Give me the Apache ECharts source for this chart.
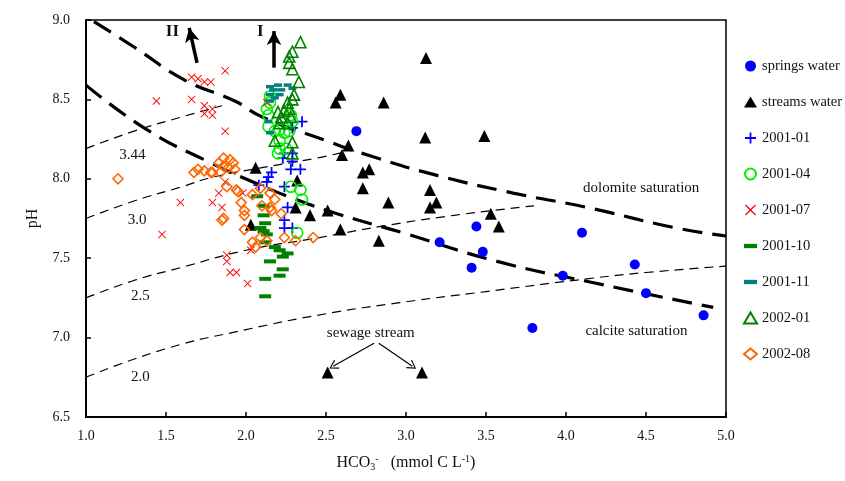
<!DOCTYPE html>
<html>
<head>
<meta charset="utf-8">
<script src="https://cdn.jsdelivr.net/npm/echarts@6/dist/echarts.min.js"></script>
<style>
  html, body { margin: 0; background: #fff; }
  #chart { width: 845px; height: 481px; }
</style>
</head>
<body>
<div id="chart"></div>
<script>
// HCO3- (mmol C/L), pH
const springsWater = [
  [2.69, 8.30], [3.21, 7.60], [3.44, 7.70], [3.48, 7.54], [3.41, 7.44], [4.10, 7.66],
  [3.98, 7.39], [4.43, 7.46], [4.50, 7.28], [4.86, 7.14], [3.79, 7.06],
];
const streamsWater = [
  [3.125, 8.76], [3.12, 8.26], [3.49, 8.27], [3.15, 7.93], [3.15, 7.82], [3.19, 7.85],
  [3.53, 7.78], [3.58, 7.70], [2.59, 8.53], [2.56, 8.48], [2.86, 8.48], [2.64, 8.21],
  [2.60, 8.15], [2.73, 8.04], [2.77, 8.06], [2.73, 7.94], [2.89, 7.85], [2.51, 7.80],
  [2.40, 7.77], [2.59, 7.68], [2.83, 7.61], [2.06, 8.07], [2.32, 7.99], [2.31, 7.82],
  [2.03, 7.71], [2.51, 6.78], [3.10, 6.78],
];
const s200101 = [
  [2.35, 8.36], [2.29, 8.32], [2.24, 8.16], [2.29, 8.16], [2.29, 8.11], [2.23, 8.13],
  [2.34, 8.06], [2.28, 8.06], [2.16, 8.04], [2.14, 8.01], [2.13, 7.98], [2.24, 7.95],
  [2.08, 7.96], [2.26, 7.82], [2.24, 7.74], [2.24, 7.69], [2.29, 7.69],
];
const s200104 = [
  [2.15, 8.52], [2.15, 8.48], [2.13, 8.44], [2.14, 8.40], [2.14, 8.33], [2.18, 8.30],
  [2.21, 8.31], [2.24, 8.29], [2.27, 8.30], [2.28, 8.40], [2.29, 8.36], [2.21, 8.24],
  [2.21, 8.19], [2.25, 8.19], [2.20, 8.16], [2.28, 7.95], [2.34, 7.93], [2.35, 7.87],
  [2.32, 7.66],
];
const s200107 = [
  [1.66, 8.64], [1.70, 8.63], [1.74, 8.61], [1.78, 8.61], [1.87, 8.68], [1.44, 8.49],
  [1.66, 8.50], [1.74, 8.46], [1.79, 8.44], [1.74, 8.41], [1.79, 8.40], [1.87, 8.30],
  [2.13, 8.48], [1.59, 7.85], [1.79, 7.85], [1.475, 7.65], [1.83, 7.91], [1.85, 7.82],
  [1.87, 7.98], [1.98, 7.91], [1.88, 7.52], [1.88, 7.48], [1.90, 7.41], [1.94, 7.41],
  [2.01, 7.34], [2.03, 7.55],
];
const s200110 = [
  [2.07, 7.89], [2.11, 7.83], [2.11, 7.77], [2.12, 7.72], [2.09, 7.69], [2.11, 7.67],
  [2.13, 7.65], [2.12, 7.60], [2.18, 7.57], [2.21, 7.55], [2.26, 7.53], [2.23, 7.51],
  [2.15, 7.48], [2.23, 7.43], [2.21, 7.39], [2.12, 7.37], [2.12, 7.26],
];
const s200111 = [
  [2.15, 8.58], [2.20, 8.59], [2.26, 8.59], [2.17, 8.56], [2.22, 8.56], [2.29, 8.57],
  [2.15, 8.53], [2.21, 8.53], [2.18, 8.51], [2.15, 8.49], [2.14, 8.36], [2.15, 8.29],
];
const s200201 = [
  [2.34, 8.86], [2.29, 8.80], [2.27, 8.77], [2.27, 8.73], [2.29, 8.69], [2.33, 8.61],
  [2.30, 8.53], [2.29, 8.50], [2.26, 8.48], [2.27, 8.44], [2.24, 8.43], [2.20, 8.42],
  [2.22, 8.39], [2.28, 8.39], [2.21, 8.35], [2.26, 8.35], [2.18, 8.24], [2.29, 8.23],
  [2.29, 8.16],
];
const s200208 = [
  [1.20, 8.00], [1.675, 8.04], [1.70, 8.06], [1.74, 8.05], [1.78, 8.04], [1.79, 8.04],
  [1.83, 8.10], [1.86, 8.13], [1.90, 8.12], [1.89, 8.07], [1.93, 8.06], [1.84, 8.04],
  [1.86, 8.08], [1.92, 8.10], [1.95, 7.92], [1.88, 7.95], [1.94, 7.93], [1.97, 7.85],
  [1.99, 7.80], [1.99, 7.77], [1.86, 7.75], [1.85, 7.74], [1.99, 7.68], [2.04, 7.90],
  [2.09, 7.94], [2.15, 7.91], [2.18, 7.87], [2.10, 7.83], [2.15, 7.82], [2.16, 7.80],
  [2.22, 7.78], [2.04, 7.60], [2.06, 7.57], [2.09, 7.63], [2.13, 7.61], [2.24, 7.63],
  [2.31, 7.61], [2.42, 7.63],
];

// saturation curves and pCO2 lines
const dolomiteLine = [
  [1.05, 8.99], [1.3, 8.83], [1.62, 8.62], [1.93, 8.49], [2.1, 8.39], [2.5, 8.24],
  [2.79, 8.14], [3.2, 8.02], [3.67, 7.91], [4.13, 7.82], [4.69, 7.69], [5.0, 7.64],
];
const calciteLine = [
  [1.0, 8.59], [1.38, 8.31], [1.76, 8.11], [2.09, 7.96], [2.26, 7.89], [2.57, 7.78],
  [2.98, 7.66], [3.57, 7.48], [4.15, 7.35], [4.92, 7.19],
];
const pco2Line344 = [[1.0, 8.19], [1.3, 8.30], [1.6, 8.39], [1.85, 8.46]];
const pco2Line30 = [[1.0, 7.75], [1.3, 7.86], [1.6, 7.95], [1.79, 8.01], [2.1, 8.07], [2.44, 8.13], [2.62, 8.17]];
const pco2Line25 = [[1.0, 7.25], [1.3, 7.36], [1.59, 7.44], [2.0, 7.55], [2.46, 7.63], [2.84, 7.70], [3.3, 7.77], [3.8, 7.83]];
const pco2Line20 = [[1.0, 6.75], [1.5, 6.93], [2.0, 7.05], [2.5, 7.15], [2.96, 7.22], [3.5, 7.29], [4.13, 7.37], [4.5, 7.41], [5.0, 7.45]];

const notes = [
  { text: '3.44', at: [1.29, 8.15] },
  { text: '3.0', at: [1.32, 7.74] },
  { text: '2.5', at: [1.34, 7.26] },
  { text: '2.0', at: [1.34, 6.75] },
  { text: 'dolomite saturation', at: [4.47, 7.94] },
  { text: 'calcite saturation', at: [4.44, 7.04] },
  { text: 'sewage stream', at: [2.78, 7.03] },
];
const romanNotes = [
  { text: 'II', at: [1.54, 8.93] },
  { text: 'I', at: [2.09, 8.93] },
];
const thickArrows = [
  [[1.694, 8.73], [1.645, 8.95]],
  [[2.175, 8.70], [2.175, 8.93]],
];
const thinArrows = [
  [[2.80, 6.965], [2.545, 6.82]],
  [[2.83, 6.965], [3.04, 6.82]],
];

const FONT = '"Liberation Serif", "Times New Roman", serif';
const PLUS = 'path://M4.2,0H5.8V4.2H10V5.8H5.8V10H4.2V5.8H0V4.2H4.2Z';
const CROSS = 'path://M0.8,0L5,4.2L9.2,0L10,0.8L5.8,5L10,9.2L9.2,10L5,5.8L0.8,10L0,9.2L4.2,5L0,0.8Z';
const DASH = 'path://M0,0H12V4H0Z';
const CHEVRON = 'path://M0,10L5,0L10,10L9,10.8L5,2.4L1,10.8Z';

function hollow(color) {
  return { color: 'rgba(0,0,0,0)', borderColor: color, borderWidth: 1.6, opacity: 1 };
}

function curve(data, width, dash) {
  return {
    type: 'line',
    data: data,
    smooth: true,
    showSymbol: false,
    silent: true,
    z: 1,
    lineStyle: { color: '#000', width: width, type: dash },
  };
}

const chart = echarts.init(document.getElementById('chart'));
chart.setOption({
  animation: false,
  grid: {
    left: 86, right: 119, top: 20, bottom: 64,
    show: true, borderColor: '#000', borderWidth: 1.5,
  },
  legend: {
    orient: 'vertical',
    left: 738,
    top: 53,
    itemWidth: 13,
    itemHeight: 11,
    itemGap: 20,
    textStyle: { fontFamily: FONT, fontSize: 14.5, color: '#111', lineHeight: 16 },
    data: ['springs water', 'streams water', '2001-01', '2001-04', '2001-07',
      '2001-10', '2001-11', '2002-01', '2002-08'],
  },
  xAxis: {
    type: 'value',
    min: 1.0, max: 5.0, interval: 0.5,
    name: 'HCO{sub|3}{sup|-}   (mmol C L{sup|-1})',
    nameLocation: 'middle',
    nameGap: 37,
    nameTextStyle: {
      fontFamily: FONT, fontSize: 16, color: '#111',
      rich: {
        sub: { fontFamily: FONT, fontSize: 10, verticalAlign: 'bottom', padding: [8, 0, 0, 0] },
        sup: { fontFamily: FONT, fontSize: 10, verticalAlign: 'top', padding: [0, 0, 7, 0] },
      },
    },
    axisLine: { onZero: false, lineStyle: { color: '#000', width: 2 } },
    axisTick: { inside: true, length: 5, lineStyle: { color: '#000', width: 1.5 } },
    axisLabel: { margin: 12, fontFamily: FONT, fontSize: 14, color: '#111', formatter: v => v.toFixed(1) },
    splitLine: { show: false },
  },
  yAxis: {
    type: 'value',
    min: 6.5, max: 9.0, interval: 0.5,
    name: 'pH',
    nameLocation: 'middle',
    nameGap: 45,
    nameTextStyle: { fontFamily: FONT, fontSize: 16, color: '#111' },
    axisLine: { onZero: false, lineStyle: { color: '#000', width: 2 } },
    axisTick: { inside: true, length: 5, lineStyle: { color: '#000', width: 1.5 } },
    axisLabel: { margin: 16, fontFamily: FONT, fontSize: 14, color: '#111', formatter: v => v.toFixed(1) },
    splitLine: { show: false },
  },
  series: [
    curve(dolomiteLine, 3.2, [20, 10]),
    curve(calciteLine, 3.2, [20, 10]),
    curve(pco2Line344, 1.2, [9, 6]),
    curve(pco2Line30, 1.2, [9, 6]),
    curve(pco2Line25, 1.2, [9, 6]),
    curve(pco2Line20, 1.2, [9, 6]),
    {
      type: 'line',
      data: [],
      silent: true,
      markLine: {
        silent: true,
        animation: false,
        label: { show: false },
        symbol: ['none', 'arrow'],
        symbolSize: [11, 14],
        lineStyle: { color: '#000', width: 3.5, type: 'solid' },
        data: thickArrows.map(a => [{ coord: a[0] }, { coord: a[1] }]),
      },
    },
    {
      type: 'line',
      data: [],
      silent: true,
      markLine: {
        silent: true,
        animation: false,
        label: { show: false },
        symbol: ['none', CHEVRON],
        symbolSize: [10, 9],
        lineStyle: { color: '#000', width: 1.2, type: 'solid' },
        data: thinArrows.map(a => [{ coord: a[0] }, { coord: a[1] }]),
      },
    },
    {
      name: 'springs water', type: 'scatter', data: springsWater,
      symbol: 'circle', symbolSize: 10, itemStyle: { color: '#0000ff', opacity: 1 },
    },
    {
      name: 'streams water', type: 'scatter', data: streamsWater,
      symbol: 'triangle', symbolSize: 12, itemStyle: { color: '#000', opacity: 1 },
    },
    {
      name: '2001-01', type: 'scatter', data: s200101,
      symbol: PLUS, symbolSize: 11, itemStyle: { color: '#0000ff', opacity: 1 },
    },
    {
      name: '2001-04', type: 'scatter', data: s200104,
      symbol: 'circle', symbolSize: 11, itemStyle: hollow('#00ee00'),
    },
    {
      name: '2001-07', type: 'scatter', data: s200107,
      symbol: CROSS, symbolSize: 8, itemStyle: { color: '#ff0000', opacity: 1 },
    },
    {
      name: '2001-10', type: 'scatter', data: s200110,
      symbol: DASH, symbolSize: [12, 4], itemStyle: { color: '#008000', opacity: 1 },
    },
    {
      name: '2001-11', type: 'scatter', data: s200111,
      symbol: DASH, symbolSize: [8, 3.5], itemStyle: { color: '#008080', opacity: 1 },
    },
    {
      name: '2002-01', type: 'scatter', data: s200201,
      symbol: 'triangle', symbolSize: 11, itemStyle: hollow('#008000'),
    },
    {
      name: '2002-08', type: 'scatter', data: s200208,
      symbol: 'diamond', symbolSize: 10, itemStyle: hollow('#ff6600'),
    },
  ],
});

// text annotations placed at data coordinates
const toPx = at => chart.convertToPixel({ gridIndex: 0 }, at);
chart.setOption({
  graphic: notes.map(n => {
    const p = toPx(n.at);
    return {
      type: 'text', x: p[0], y: p[1], z: 10, silent: true,
      style: { text: n.text, font: '15px ' + FONT, fill: '#111', align: 'center', verticalAlign: 'middle' },
    };
  }).concat(romanNotes.map(n => {
    const p = toPx(n.at);
    return {
      type: 'text', x: p[0], y: p[1], z: 10, silent: true,
      style: { text: n.text, font: 'bold 17px ' + FONT, fill: '#111', align: 'center', verticalAlign: 'middle' },
    };
  })),
});
</script>
</body>
</html>
